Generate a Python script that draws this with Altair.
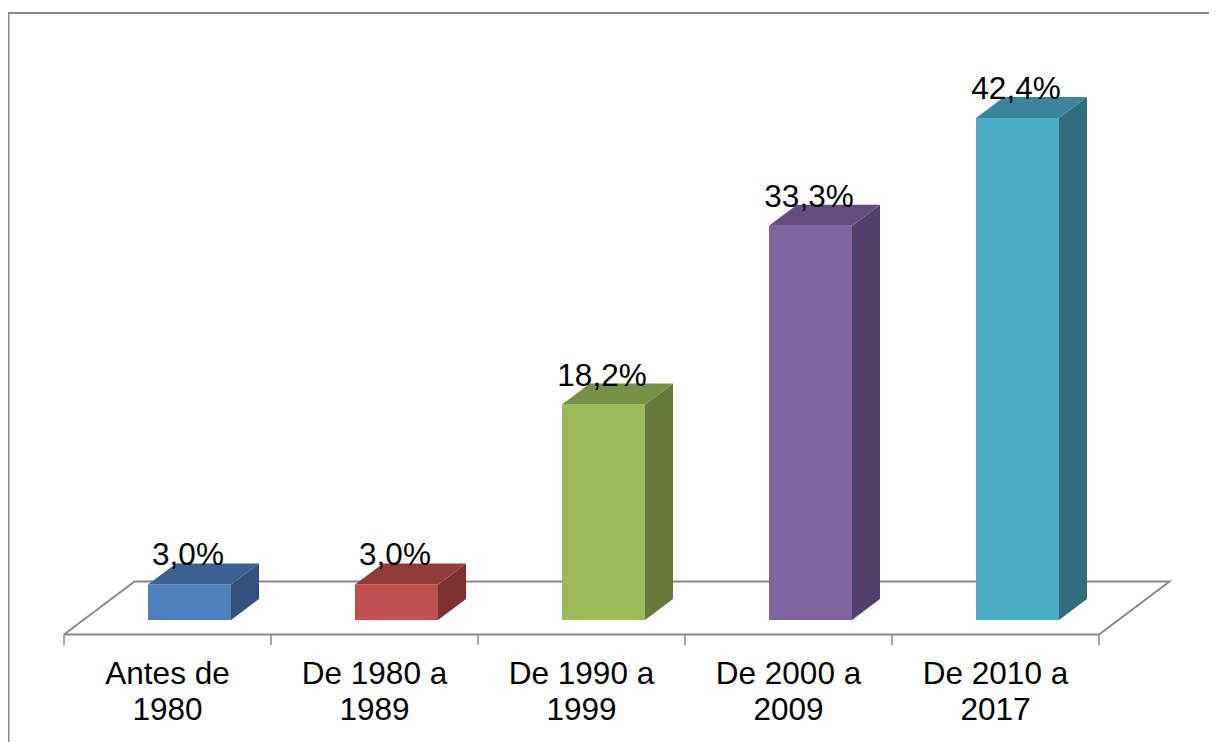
import altair as alt
import pandas as pd

categories = ["Antes de\n1980", "De 1980 a\n1989", "De 1990 a\n1999", "De 2000 a\n2009", "De 2010 a\n2017"]
values = [3.0, 3.0, 18.2, 33.3, 42.4]
labels = ["3,0%", "3,0%", "18,2%", "33,3%", "42,4%"]
front_colors = ["#4F81BD", "#C0504D", "#9BBB59", "#8064A2", "#4BACC6"]
top_colors = ["#3C6191", "#913C3A", "#769046", "#634D7E", "#3A859C"]
side_colors = ["#31527A", "#7C322F", "#657A3A", "#533F6B", "#306E7E"]

W, H = 1201, 734
XDOM = [(8 - 64) / 207, (1209 - 64) / 207]
YDOM = [(620 - 742) / 11.84, (620 - 8) / 11.84]
BAR_L, BAR_W = 84 / 207, 83 / 207
DX, DY = 28 / 207, 21 / 11.84
FLOOR_B, FLOOR_F = (620 - 581.5) / 11.84, (620 - 634.5) / 11.84
FLOOR_DX = 70.5 / 207
TICK_END = (620 - 645) / 11.84
GREY = "#8A8A8A"

xs = alt.Scale(domain=XDOM, range=[0, W], nice=False, zero=False)
ys = alt.Scale(domain=YDOM, range=[H, 0], nice=False, zero=False)
X = lambda f: alt.X(f, type="quantitative", scale=xs, axis=None)
Y = lambda f: alt.Y(f, type="quantitative", scale=ys, axis=None)

bars = pd.DataFrame({"i": range(5), "cat": categories, "v": values, "lab": labels,
                     "front": front_colors, "top": top_colors, "side": side_colors})
bars["l"] = bars.i + BAR_L
bars["r"] = bars.l + BAR_W
bars["c"] = (bars.l + bars.r) / 2
bars["mid"] = bars.i + 0.5
bars["zero"] = 0.0

side = pd.concat([
    bars.assign(px=bars.r, py=bars.v, py2=0.0),
    bars.assign(px=bars.r + DX, py=bars.v + DY, py2=DY),
])
top = pd.concat([
    bars.assign(py=bars.v, px=bars.l, px2=bars.r),
    bars.assign(py=bars.v + DY, px=bars.l + DX, px2=bars.r + DX),
])

frame_x = (8.5 - 64) / 207
frame_y = (620 - 13) / 11.84
frame = pd.DataFrame({"x": [frame_x, frame_x, XDOM[1]], "y": [YDOM[0], frame_y, frame_y], "o": [0, 1, 2]})
floor = pd.DataFrame({
    "x": [0, 5, 5 + FLOOR_DX, FLOOR_DX, 0],
    "y": [FLOOR_F, FLOOR_F, FLOOR_B, FLOOR_B, FLOOR_F],
    "o": [0, 1, 2, 3, 4],
})
ticks = pd.DataFrame({"x": list(range(6)), "y": [FLOOR_F] * 6, "y2": [TICK_END] * 6})

line_order = alt.Order("o:Q")
frame_l = alt.Chart(frame).mark_line(color=GREY, strokeWidth=2).encode(x=X("x"), y=Y("y"), order=line_order)
floor_l = alt.Chart(floor).mark_line(color=GREY, strokeWidth=2).encode(x=X("x"), y=Y("y"), order=line_order)
tick_l = alt.Chart(ticks).mark_rule(color=GREY, strokeWidth=1.5).encode(x=X("x"), y=Y("y"), y2="y2:Q")

front_m = alt.Chart(bars).mark_rect().encode(
    x=X("l"), x2="r:Q", y=Y("zero"), y2="v:Q", color=alt.Color("front:N", scale=None))
side_m = alt.Chart(side).mark_area(orient="vertical").encode(
    x=X("px"), y=Y("py"), y2="py2:Q", color=alt.Color("side:N", scale=None), detail="i:N")
top_m = alt.Chart(top).mark_area(orient="horizontal").encode(
    y=Y("py"), x=X("px"), x2="px2:Q", color=alt.Color("top:N", scale=None), detail="i:N")

value_text = alt.Chart(bars).mark_text(
    font="Liberation Sans", fontSize=31.5, color="black", baseline="alphabetic", align="center", dy=-19, dx=-1.5
).encode(x=X("c"), y=Y("v"), text="lab:N")

cats = bars.assign(ty=(620 - 684) / 11.84)
cat_text = alt.Chart(cats).mark_text(
    font="Liberation Sans", fontSize=31.5, color="black", baseline="alphabetic", align="center",
    lineBreak="\n", lineHeight=36
).encode(x=X("mid"), y=Y("ty"), text="cat:N")

chart = alt.layer(frame_l, floor_l, tick_l, front_m, side_m, top_m, value_text, cat_text).properties(
    width=W, height=H, padding=0, autosize=alt.AutoSizeParams(type="none"), background="white"
).configure_view(stroke=None)

chart.save("out.html", embed_options={"renderer": "svg", "actions": False})
